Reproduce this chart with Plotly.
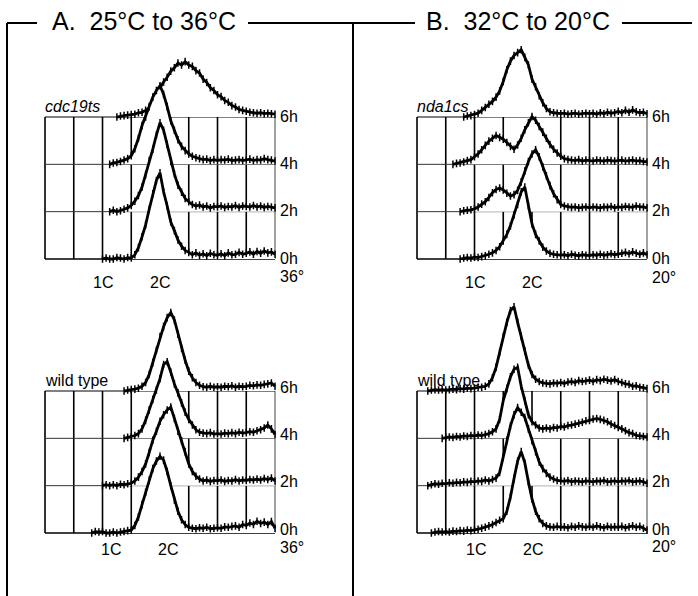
import plotly.graph_objects as go

W, H = 698, 596
FONT = "Liberation Sans, Arial, sans-serif"

# DNA-content channel positions in grid columns (1C = 2, 2C = 4)
channels = [i * 0.125 for i in range(65)]
time_labels = ["6h", "4h", "2h", "0h"]
row_of = {"6h": 3, "4h": 2, "2h": 1, "0h": 0}
c_ticks = [2, 4]
c_labels = ["1C", "2C"]

# ---------------- A. cdc19ts, 25C -> 36C ----------------
cdc19_6h = [0,0,0,0,0,0,0,0,
            0,0,0,0,0,0,0,0,
            0,0,0,0,0,0.02,0.03,0.04,
            0.05,0.06,0.09,0.1,0.14,0.19,0.3,0.46,
            0.62,0.74,0.84,0.97,1.04,1.14,1.1,1.17,
            1.1,1.07,0.98,0.93,0.8,0.73,0.62,0.56,
            0.47,0.43,0.35,0.31,0.24,0.21,0.16,0.14,
            0.12,0.1,0.09,0.08,0.09,0.07,0.08,0.07,
            0.06]
cdc19_4h = [0,0,0,0,0,0,0,0,
            0,0,0,0,0,0,0,0,
            0,0,0,0.03,0.04,0.06,0.09,0.12,
            0.18,0.33,0.55,0.82,1.0,1.22,1.42,1.56,
            1.66,1.48,1.22,0.92,0.72,0.52,0.38,0.29,
            0.22,0.17,0.14,0.12,0.1,0.11,0.08,0.1,
            0.08,0.1,0.09,0.11,0.08,0.09,0.1,0.08,
            0.09,0.11,0.08,0.1,0.09,0.12,0.1,0.09,
            0.07]
cdc19_2h = [0,0,0,0,0,0,0,0,
            0,0,0,0,0,0,0,0,
            0,0,0,0.03,0,0.02,0.05,0.08,
            0.13,0.22,0.34,0.52,0.78,1.08,1.32,1.62,
            1.88,1.72,1.42,1.06,0.8,0.56,0.41,0.28,
            0.21,0.15,0.12,0.14,0.1,0.12,0.08,0.11,
            0.1,0.12,0.09,0.11,0.1,0.13,0.09,0.12,
            0.11,0.1,0.13,0.1,0.12,0.09,0.11,0.1,
            0.08]
cdc19_0h = [0,0,0,0,0,0,0,0,
            0,0,0,0,0,0,0,0,
            0,0.02,0,0,0.03,0.02,0,0.03,
            0.02,0.09,0.24,0.47,0.72,1.05,1.38,1.66,
            1.82,1.42,1.12,0.78,0.6,0.4,0.27,0.18,
            0.14,0.09,0.13,0.08,0.11,0.07,0.12,0.09,
            0.08,0.11,0.07,0.13,0.09,0.1,0.14,0.1,
            0.12,0.15,0.1,0.16,0.12,0.17,0.13,0.15,
            0.1]

# ---------------- B. nda1cs, 32C -> 20C ----------------
nda1_6h = [0,0,0,0,0,0,0,0,
           0,0,0,0,0,0,0.02,0.03,
           0.05,0.08,0.14,0.2,0.27,0.33,0.42,0.55,
           0.75,1.0,1.18,1.3,1.36,1.42,1.26,1.1,
           0.8,0.64,0.45,0.3,0.18,0.11,0.09,0.08,
           0.07,0.08,0.06,0.07,0.08,0.06,0.07,0.08,
           0.07,0.08,0.06,0.09,0.07,0.1,0.08,0.09,
           0.12,0.09,0.14,0.1,0.15,0.11,0.09,0.1,
           0.07]
nda1_4h = [0,0,0,0,0,0,0,0,
           0,0,0,0.02,0.03,0.05,0.08,0.1,
           0.16,0.22,0.31,0.4,0.49,0.55,0.61,0.57,
           0.53,0.46,0.38,0.32,0.41,0.55,0.73,0.88,
           1.01,0.93,0.8,0.68,0.55,0.42,0.32,0.24,
           0.17,0.12,0.1,0.09,0.08,0.1,0.07,0.09,
           0.08,0.07,0.09,0.08,0.07,0.09,0.08,0.07,
           0.08,0.09,0.07,0.08,0.09,0.07,0.08,0.06,
           0.05]
nda1_2h = [0,0,0,0,0,0,0,0,
           0,0,0,0,0,0.02,0.03,0.04,
           0.06,0.1,0.16,0.21,0.3,0.4,0.47,0.5,
           0.46,0.39,0.33,0.36,0.45,0.63,0.86,1.06,
           1.22,1.31,1.16,0.95,0.76,0.55,0.38,0.25,
           0.15,0.12,0.1,0.09,0.1,0.08,0.09,0.1,
           0.08,0.1,0.09,0.08,0.1,0.09,0.11,0.08,
           0.1,0.09,0.11,0.1,0.09,0.12,0.1,0.1,
           0.08]
nda1_0h = [0,0,0,0,0,0,0,0,
           0,0,0,0,0,0.02,0.03,0.02,
           0.04,0.03,0.05,0.07,0.1,0.13,0.18,0.26,
           0.38,0.52,0.7,0.93,1.15,1.42,1.52,1.12,
           0.74,0.52,0.38,0.25,0.17,0.12,0.1,0.09,
           0.08,0.09,0.07,0.1,0.08,0.07,0.09,0.08,
           0.07,0.09,0.08,0.1,0.08,0.09,0.11,0.09,
           0.1,0.12,0.14,0.11,0.15,0.12,0.1,0.13,
           0.09]

# ---------------- wild type, 25C -> 36C ----------------
wt36_6h = [0,0,0,0,0,0,0,0,
           0,0,0,0,0,0,0,0,
           0,0,0,0,0,0,0,0.02,
           0.03,0.04,0.06,0.1,0.18,0.35,0.6,0.86,
           1.15,1.36,1.55,1.66,1.5,1.2,0.9,0.65,
           0.42,0.28,0.18,0.12,0.09,0.08,0.1,0.08,
           0.09,0.08,0.1,0.09,0.11,0.08,0.1,0.09,
           0.1,0.12,0.11,0.13,0.12,0.14,0.15,0.17,
           0.1]
wt36_4h = [0,0,0,0,0,0,0,0,
           0,0,0,0,0,0,0,0,
           0,0,0,0,0,0,0,0.02,
           0.03,0.06,0.1,0.2,0.38,0.6,0.82,1.02,
           1.26,1.56,1.62,1.4,1.15,0.96,0.75,0.55,
           0.4,0.28,0.18,0.13,0.11,0.1,0.12,0.09,
           0.1,0.09,0.11,0.1,0.12,0.1,0.13,0.11,
           0.12,0.14,0.13,0.16,0.18,0.22,0.28,0.2,
           0.08]
wt36_2h = [0,0,0,0,0,0,0,0,
           0,0,0,0,0,0,0,0,
           0,0.02,0,0.02,0,0.03,0.02,0.04,
           0.05,0.1,0.18,0.3,0.46,0.7,0.96,1.15,
           1.36,1.5,1.6,1.66,1.42,1.15,0.95,0.72,
           0.46,0.3,0.2,0.14,0.1,0.12,0.09,0.11,
           0.1,0.12,0.09,0.11,0.1,0.13,0.1,0.12,
           0.11,0.13,0.12,0.14,0.12,0.15,0.13,0.16,
           0.1]
wt36_0h = [0,0,0,0,0,0,0,0,
           0,0,0,0,0,0,0.03,0.02,
           0.03,0,0,0.02,0,0.02,0.03,0.05,
           0.06,0.16,0.34,0.6,0.86,1.12,1.36,1.52,
           1.62,1.54,1.3,1.0,0.7,0.46,0.28,0.18,
           0.12,0.1,0.09,0.11,0.1,0.12,0.09,0.1,
           0.11,0.1,0.13,0.12,0.14,0.15,0.12,0.18,
           0.16,0.21,0.18,0.25,0.2,0.23,0.18,0.24,
           0.1]

# ---------------- wild type, 32C -> 20C ----------------
wt20_6h = [0,0,0,0,0.02,0.03,0.02,0.03,
           0.02,0.03,0.04,0.03,0.05,0.04,0.06,0.05,
           0.06,0.08,0.08,0.1,0.15,0.28,0.5,0.82,
           1.15,1.45,1.7,1.78,1.45,1.15,0.85,0.55,
           0.35,0.25,0.2,0.17,0.16,0.15,0.17,0.16,
           0.18,0.16,0.19,0.2,0.18,0.22,0.2,0.21,
           0.23,0.2,0.24,0.22,0.25,0.23,0.21,0.24,
           0.2,0.18,0.15,0.14,0.1,0.11,0.08,0.07,
           0.05]
wt20_4h = [0,0,0,0,0,0,0,0,
           0.02,0.03,0.02,0.04,0.03,0.05,0.04,0.06,
           0.05,0.07,0.06,0.08,0.1,0.14,0.2,0.4,
           0.8,1.05,1.3,1.46,1.5,1.1,0.8,0.5,
           0.35,0.28,0.22,0.2,0.22,0.2,0.23,0.22,
           0.25,0.24,0.27,0.28,0.3,0.32,0.34,0.37,
           0.38,0.41,0.42,0.4,0.38,0.35,0.3,0.27,
           0.23,0.2,0.16,0.12,0.1,0.06,0.05,0.04,
           0.03]
wt20_2h = [0,0,0,0,0.02,0.04,0.03,0.05,
           0.04,0.06,0.05,0.07,0.06,0.08,0.07,0.09,
           0.08,0.1,0.09,0.12,0.1,0.13,0.16,0.28,
           0.6,0.96,1.26,1.5,1.65,1.55,1.44,1.2,
           0.95,0.72,0.5,0.36,0.26,0.18,0.14,0.11,
           0.1,0.09,0.11,0.08,0.1,0.09,0.08,0.1,
           0.09,0.08,0.1,0.09,0.11,0.08,0.09,0.1,
           0.08,0.1,0.09,0.11,0.08,0.09,0.1,0.08,
           0.05]
wt20_0h = [0,0,0,0,0,0.02,0.03,0.02,
           0.03,0.02,0.04,0.03,0.05,0.04,0.06,0.05,
           0.06,0.08,0.1,0.12,0.15,0.18,0.22,0.27,
           0.3,0.46,0.76,1.15,1.52,1.72,1.48,1.08,
           0.72,0.46,0.3,0.2,0.15,0.13,0.12,0.14,
           0.12,0.13,0.11,0.14,0.12,0.15,0.13,0.12,
           0.14,0.12,0.15,0.13,0.11,0.14,0.12,0.13,
           0.12,0.14,0.11,0.13,0.15,0.12,0.14,0.1,
           0.06]

# ---------------- layout of the four panels (pixels) ----------------
XR = [-0.1, 8.1]
YR = [-0.1, 5.0]
ROW_PX = 47.33
COL_PX = 28.75

panels = [
    dict(data=[cdc19_6h, cdc19_4h, cdc19_2h, cdc19_0h], strain="<i>cdc19ts</i>", temp="36°",
         box_left=45, base=259, lab_dy=23, temp_dy=17, h_dy=1, c_dx=0, gray2c=True),
    dict(data=[nda1_6h, nda1_4h, nda1_2h, nda1_0h], strain="<i>nda1cs</i>", temp="20°",
         box_left=417, base=259, lab_dy=23, temp_dy=18, h_dy=1, c_dx=0, gray2c=False),
    dict(data=[wt36_6h, wt36_4h, wt36_2h, wt36_0h], strain="wild type", temp="36°",
         box_left=45, base=533, lab_dy=16, temp_dy=14, h_dy=4, c_dx=8, gray2c=True),
    dict(data=[wt20_6h, wt20_4h, wt20_2h, wt20_0h], strain="wild type", temp="20°",
         box_left=417, base=533, lab_dy=16, temp_dy=13, h_dy=4, c_dx=1, gray2c=False),
]


def fx(px):
    return px / W


def fy(py):
    return 1 - py / H


fig = go.Figure()
shapes = []
annotations = []
layout_axes = {}
LABEL_FONT = dict(family=FONT, size=16, color="black")

for k, p in enumerate(panels, start=1):
    xa = "x" if k == 1 else f"x{k}"
    ya = "y" if k == 1 else f"y{k}"
    xname = "xaxis" if k == 1 else f"xaxis{k}"
    yname = "yaxis" if k == 1 else f"yaxis{k}"
    x0px = p["box_left"] + XR[0] * COL_PX
    x1px = p["box_left"] + XR[1] * COL_PX
    ybot = p["base"] - YR[0] * ROW_PX
    ytop = p["base"] - YR[1] * ROW_PX
    layout_axes[xname] = dict(domain=[fx(x0px), fx(x1px)], range=XR, visible=False,
                              fixedrange=True, anchor=ya)
    layout_axes[yname] = dict(domain=[fy(ybot), fy(ytop)], range=YR, visible=False,
                              fixedrange=True, anchor=xa)

    # grid: 8 columns x 3 rows
    for c in range(9):
        if c == 4 and p["gray2c"]:
            col, wdt = "#c4c4c4", 1.2
        elif c == 8:
            col, wdt = "#444444", 1.0
        else:
            col, wdt = "black", 1.6
        shapes.append(dict(type="line", xref=xa, yref=ya, x0=c, x1=c, y0=0, y1=3,
                           line=dict(color=col, width=wdt), layer="below"))
    for r in range(4):
        wdt = 1.6 if r == 0 else 1.0
        col = "black" if r in (0, 3) else "#333333"
        shapes.append(dict(type="line", xref=xa, yref=ya, x0=0, x1=8, y0=r, y1=r,
                           line=dict(color=col, width=wdt), layer="below"))

    # stacked histograms, back (6h) to front (0h), each hiding what is behind it
    for lab, vals in zip(time_labels, p["data"]):
        off = row_of[lab]
        start = next(i for i, v in enumerate(vals) if v > 0)
        start = max(start - 1, 0)
        xs = channels[start:]
        fig.add_trace(go.Scatter(x=xs, y=[off] * len(xs), mode="lines",
                                 line=dict(width=0, color="rgba(0,0,0,0)"),
                                 xaxis=xa, yaxis=ya, hoverinfo="skip", showlegend=False))
        fig.add_trace(go.Scatter(x=xs, y=[off + v for v in vals[start:]], mode="lines",
                                 line=dict(width=2.8, color="black"),
                                 fill="tonexty", fillcolor="white",
                                 error_y=dict(type="constant", value=0.08, width=0,
                                              thickness=1.5, color="black"),
                                 xaxis=xa, yaxis=ya, hoverinfo="skip", showlegend=False))

    # time labels on the right
    for lab in time_labels:
        annotations.append(dict(text=lab, xref=xa, yref=ya, x=8, y=row_of[lab],
                                xanchor="left", yanchor="middle", xshift=3, yshift=p["h_dy"],
                                showarrow=False, font=LABEL_FONT))
    annotations.append(dict(text=p["temp"], xref=xa, yref=ya, x=8, y=0,
                            xanchor="left", yanchor="middle", xshift=3, yshift=-p["temp_dy"],
                            showarrow=False, font=LABEL_FONT))
    for cx, ct in zip(c_ticks, c_labels):
        annotations.append(dict(text=ct, xref=xa, yref=ya, x=cx, y=0,
                                xanchor="center", yanchor="middle", xshift=p["c_dx"],
                                yshift=-p["lab_dy"], showarrow=False, font=LABEL_FONT))
    annotations.append(dict(text=p["strain"], xref=xa, yref=ya, x=0, y=3,
                            xanchor="left", yanchor="bottom", xshift=-2, yshift=0,
                            showarrow=False, font=dict(family=FONT, size=16, color="black")))

# section titles and frame
annotations.append(dict(text="A.&nbsp; 25°C to 36°C", xref="paper", yref="paper",
                        x=fx(144), y=fy(21), xanchor="center", yanchor="middle",
                        showarrow=False, font=dict(family=FONT, size=25, color="black")))
annotations.append(dict(text="B.&nbsp; 32°C to 20°C", xref="paper", yref="paper",
                        x=fx(518), y=fy(21), xanchor="center", yanchor="middle",
                        showarrow=False, font=dict(family=FONT, size=25, color="black")))

frame = [((7, 23), (7, 596)), ((7, 23), (37, 23)), ((248, 23), (415, 23)),
         ((622, 23), (692, 23)), ((353, 23), (353, 596))]
for (a, b) in frame:
    shapes.append(dict(type="line", xref="paper", yref="paper",
                       x0=fx(a[0]), y0=fy(a[1]), x1=fx(b[0]), y1=fy(b[1]),
                       line=dict(color="black", width=2)))

fig.update_layout(width=W, height=H, margin=dict(l=0, r=0, t=0, b=0),
                  paper_bgcolor="white", plot_bgcolor="white", showlegend=False,
                  shapes=shapes, annotations=annotations, **layout_axes)

fig.write_html("out.html", config={"displayModeBar": False},
               post_script="document.body.style.margin='0px';")
